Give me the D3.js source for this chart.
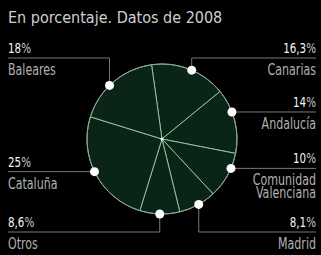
<!DOCTYPE html>
<html>
<head>
<meta charset="utf-8">
<script src="https://cdn.jsdelivr.net/npm/d3@7"></script>
<style>
  body { margin: 0; background: #000; }
  svg { display: block; font-family: "DejaVu Sans Condensed", "Liberation Sans", sans-serif; }
</style>
</head>
<body>
<svg id="chart" width="321" height="255"></svg>
<script>
const regions = ["Canarias", "Andalucía", "Comunidad\nValenciana", "Madrid", "Otros", "Cataluña", "Baleares"];
const shares = [16.3, 14, 10, 8.1, 8.6, 25, 18];
const shareLabels = ["16,3", "14", "10", "8,1", "8,6", "25", "18"];

// label placement: side, leader type, elbow row, nudge of the dot along the arc (deg)
const labelLayout = [
  { side: "right", kind: "top", row: 58, nudge: 2 },
  { side: "right", kind: "flat", nudge: -7 },
  { side: "right", kind: "flat", nudge: -6 },
  { side: "right", kind: "bottom", row: 232, nudge: -1 },
  { side: "left", kind: "bottom", row: 232, nudge: 0 },
  { side: "left", kind: "flat", nudge: 2 },
  { side: "left", kind: "top", row: 58, nudge: -4 }
];

const svg = d3.select("#chart");
const cx = 162, cy = 139, radius = 75;
const leftX = 8, rightX = 316;
const squeeze = 0.82; // the source face is a condensed grotesque

svg.append("text")
  .attr("x", leftX)
  .attr("y", 23)
  .attr("fill", "#cfcfcf")
  .attr("font-size", 16)
  .text("En porcentaje. Datos de 2008");

const pie = d3.pie()
  .sort(null)
  .startAngle(-8 * Math.PI / 180)
  .endAngle((360 - 8) * Math.PI / 180);
const arcs = pie(shares);
const arc = d3.arc().innerRadius(0).outerRadius(radius);

const g = svg.append("g").attr("transform", `translate(${cx},${cy})`);

g.selectAll("path.slice")
  .data(arcs)
  .join("path")
  .attr("class", "slice")
  .attr("d", arc)
  .attr("fill", "#0a2517")
  .attr("stroke", "#8fc49a")
  .attr("stroke-width", 1);

g.append("circle")
  .attr("r", radius)
  .attr("fill", "none")
  .attr("stroke", "#8e9e8e")
  .attr("stroke-width", 1);

g.append("circle").attr("r", 1.5).attr("fill", "#fff");

const leaders = svg.append("g");
const labels = svg.append("g");

arcs.forEach((d, i) => {
  const lay = labelLayout[i];
  const a = (d.startAngle + d.endAngle) / 2 + lay.nudge * Math.PI / 180;
  const px = cx + radius * Math.sin(a);
  const py = cy - radius * Math.cos(a);
  const endX = lay.side === "left" ? leftX : rightX;
  let lineY, pts;
  if (lay.kind === "flat") {
    lineY = py;
    pts = [[px, py], [endX, py]];
  } else {
    lineY = lay.row;
    pts = [[px, py], [px, lineY], [endX, lineY]];
  }
  leaders.append("path")
    .attr("d", d3.line()(pts))
    .attr("fill", "none")
    .attr("stroke", "#777")
    .attr("stroke-width", 1);

  svg.append("circle")
    .attr("cx", px)
    .attr("cy", py)
    .attr("r", 4.5)
    .attr("fill", "#fff");

  const anchor = lay.side === "left" ? "start" : "end";
  const pct = labels.append("text")
    .attr("transform", `translate(${endX},${lineY - 5}) scale(${squeeze},1)`)
    .attr("text-anchor", anchor)
    .attr("fill", "#f4f4f4")
    .attr("font-size", 14);
  pct.append("tspan").text(shareLabels[i]);
  pct.append("tspan").attr("fill", "#c8c8c8").text("%");

  const nameText = labels.append("text")
    .attr("transform", `translate(${endX},${lineY + 17}) scale(${squeeze},1)`)
    .attr("text-anchor", anchor)
    .attr("fill", "#b0b0b0")
    .attr("font-size", 15);
  regions[i].split("\n").forEach((line, k) => {
    nameText.append("tspan")
      .attr("x", 0)
      .attr("dy", k === 0 ? 0 : 13)
      .text(line);
  });
});
</script>
</body>
</html>
